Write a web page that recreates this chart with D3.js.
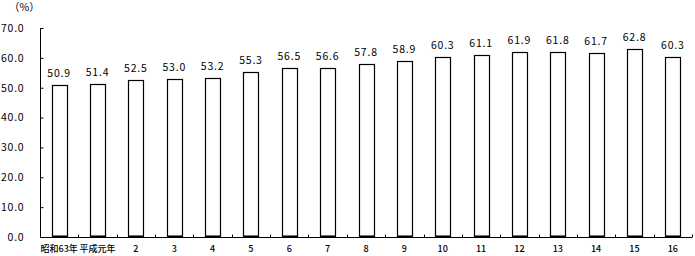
<!DOCTYPE html>
<html><head><meta charset="utf-8">
<script src="https://cdn.jsdelivr.net/npm/d3@7"></script>
<style>
html,body{margin:0;padding:0;background:#fff;}
text{font-family:"Noto Sans CJK JP","DejaVu Sans",sans-serif;fill:#000;}
</style></head>
<body>
<svg id="c" width="695" height="256"></svg>
<script>
const categories = ["昭和63年","平成元年","2","3","4","5","6","7","8","9","10","11","12","13","14","15","16"];
const values = [50.9,51.4,52.5,53.0,53.2,55.3,56.5,56.6,57.8,58.9,60.3,61.1,61.9,61.8,61.7,62.8,60.3];
const baseValues = [0.5,0.5,0.5,0.5,0.5,0.5,0.5,0.5,0.5,0.5,0.5,0.5,0.5,0.5,0.5,0.5,0.5];
const yTicks = [0,10,20,30,40,50,60,70];
const unitLabel = "（%）";

const svg = d3.select("#c");
const x = d3.scaleBand().domain(categories).range([40, 692]).padding(0);
const y = d3.scaleLinear().domain([0,70]).range([237, 28]);
const bw = 15;

// bars
const g = svg.append("g");
categories.forEach((c,i)=>{
  const cx = x(c) + x.bandwidth()/2;
  g.append("rect").attr("x", Math.round(cx - bw/2)+0.5).attr("y", Math.round(y(values[i]))+0.5)
    .attr("width", bw).attr("height", Math.round(y(0)) - Math.round(y(values[i])) - 1)
    .attr("fill","#fff").attr("stroke","#000").attr("stroke-width",1.2);
  g.append("rect").attr("x", Math.round(cx - bw/2)+0.5).attr("y", y(baseValues[i]))
    .attr("width", bw).attr("height", y(0)-y(baseValues[i]))
    .attr("fill","#000");
  g.append("text").attr("x", cx).attr("y", y(values[i]) - 8)
    .attr("text-anchor","middle").attr("font-size", 10.5).attr("letter-spacing", 0.8).text(values[i].toFixed(1));
  g.append("text").attr("x", cx).attr("y", 252)
    .attr("text-anchor","middle").attr("font-size", 9).attr("font-weight", 500).text(c);
});

// y axis
const yAxis = d3.axisLeft(y).tickValues(yTicks).tickSize(-3).tickPadding(16).tickFormat(d3.format(".1f"));
const ya = svg.append("g").attr("transform","translate(40.5,0)").call(yAxis);
ya.select(".domain").attr("d", `M0,${y(70)}V${y(0)}`).attr("stroke","#000");
ya.selectAll(".tick line").attr("stroke","#000");
ya.selectAll(".tick text").attr("font-size", 10.5).attr("letter-spacing", 0.8).attr("font-family",'"Noto Sans CJK JP",sans-serif').attr("fill","#000");

// x axis
const xa = svg.append("g").attr("transform",`translate(0,${Math.round(y(0))+0.5})`);
xa.append("line").attr("x1",40).attr("x2",692).attr("stroke","#000");
categories.forEach((c,i)=>{
  const tx = Math.round(x(c) + x.bandwidth()) + 0.5;
  xa.append("line").attr("x1",tx).attr("x2",tx).attr("y1",0).attr("y2",-3).attr("stroke","#000");
});

svg.append("text").attr("x", 9).attr("y", 11).attr("font-size", 10.5).text(unitLabel);
</script>
</body></html>
